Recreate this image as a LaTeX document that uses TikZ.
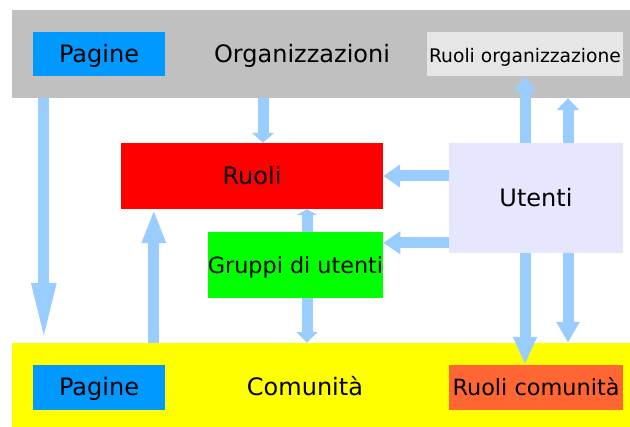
\documentclass[tikz,border=0pt]{standalone}
\usepackage{fontspec}
\setmainfont{DejaVu Sans}
\usetikzlibrary{arrows.meta,backgrounds}
\definecolor{orggray}{HTML}{C0C0C0}
\definecolor{comyellow}{HTML}{FFFF00}
\definecolor{pageblue}{HTML}{0099FF}
\definecolor{rolegray}{HTML}{E6E6E6}
\definecolor{userblue}{HTML}{E6E6FF}
\definecolor{roleorange}{HTML}{FF6633}
\definecolor{flowblue}{HTML}{99CCFF}
\tikzset{
  area/.style={rectangle,inner sep=0pt},
  box/.style={rectangle,inner sep=0pt,text height=20.5pt,text depth=3.5pt,font=\fontsize{24}{28}\selectfont},
  word/.style={inner sep=0pt,text height=20.5pt,text depth=3.5pt,font=\fontsize{24}{28}\selectfont},
  flow/.style={draw=flowblue,line width=11pt,-{Triangle[width=22pt,length=#1]}},
  flow/.default=20pt,
  twoway/.style={draw=flowblue,line width=11pt,{Triangle[width=21pt,length=6pt]}-{Triangle[width=21pt,length=11pt]}}
}
\begin{document}
\begin{tikzpicture}[x=1pt,y=-1pt]
\useasboundingbox (0,0) rectangle (630,427);
\node[area,fill=orggray,minimum width=618pt,minimum height=88pt] (org) at (321,54) {};
\node[area,fill=comyellow,minimum width=618pt,minimum height=84pt] (com) at (321,385) {};
\node[box,fill=pageblue,minimum width=132pt,minimum height=44pt] (pagorg) at (99,54) {Pagine};
\node[word] (orgname) at (302,54) {Organizzazioni};
\node[box,fill=rolegray,minimum width=196pt,minimum height=44pt,font=\fontsize{18.7}{22}\selectfont] (ruolorg) at (525,54) {Ruoli organizzazione};
\node[box,fill=red,minimum width=262pt,minimum height=66pt] (ruoli) at (252,176) {Ruoli};
\node[box,fill=userblue,minimum width=174pt,minimum height=110pt] (utenti) at (536,198) {Utenti};
\node[box,fill=green,minimum width=175pt,minimum height=66pt,font=\fontsize{22.3}{26}\selectfont] (gruppi) at (295.5,265) {Gruppi di utenti};
\node[box,fill=pageblue,minimum width=132pt,minimum height=45pt] (pagcom) at (99,387.5) {Pagine};
\node[word] (comname) at (305,387.5) {Comunità};
\node[box,fill=roleorange,minimum width=174pt,minimum height=45pt,font=\fontsize{22.4}{26}\selectfont] (ruolcom) at (536,387.5) {Ruoli comunità};

\draw[flow=60pt] ([xshift=32pt]org.south west) -- ([xshift=32pt]com.north west);
\draw[flow=10pt] ([xshift=11pt]ruoli.north |- org.south) -- ([xshift=11pt]ruoli.north);
\draw[flow=15pt] (ruolorg.south |- utenti.north) -- (ruolorg.south);
\draw[flow=12pt] ([xshift=32pt]utenti.north) -- ([xshift=32pt]utenti.north |- org.south);
\draw[flow=17pt] (utenti.west |- ruoli.east) -- (ruoli.east);
\draw[flow=17pt] ([yshift=-11pt]utenti.west |- gruppi.north east) -- ([yshift=-11pt]gruppi.north east);
\draw[flow=34pt] ([xshift=33pt]ruoli.south west |- com.north) -- ([xshift=33pt]ruoli.south west);
\draw[flow=28pt] (ruolorg.south |- utenti.south) -- (ruolorg.south |- ruolcom.north);
\draw[flow=21pt] ([xshift=32pt]utenti.south) -- ([xshift=32pt]utenti.south |- com.north);
\begin{scope}[on background layer]
\draw[twoway] ([xshift=11.5pt]gruppi.north |- ruoli.south) -- ([xshift=11.5pt]gruppi.south |- com.north);
\end{scope}
\end{tikzpicture}
\end{document}
